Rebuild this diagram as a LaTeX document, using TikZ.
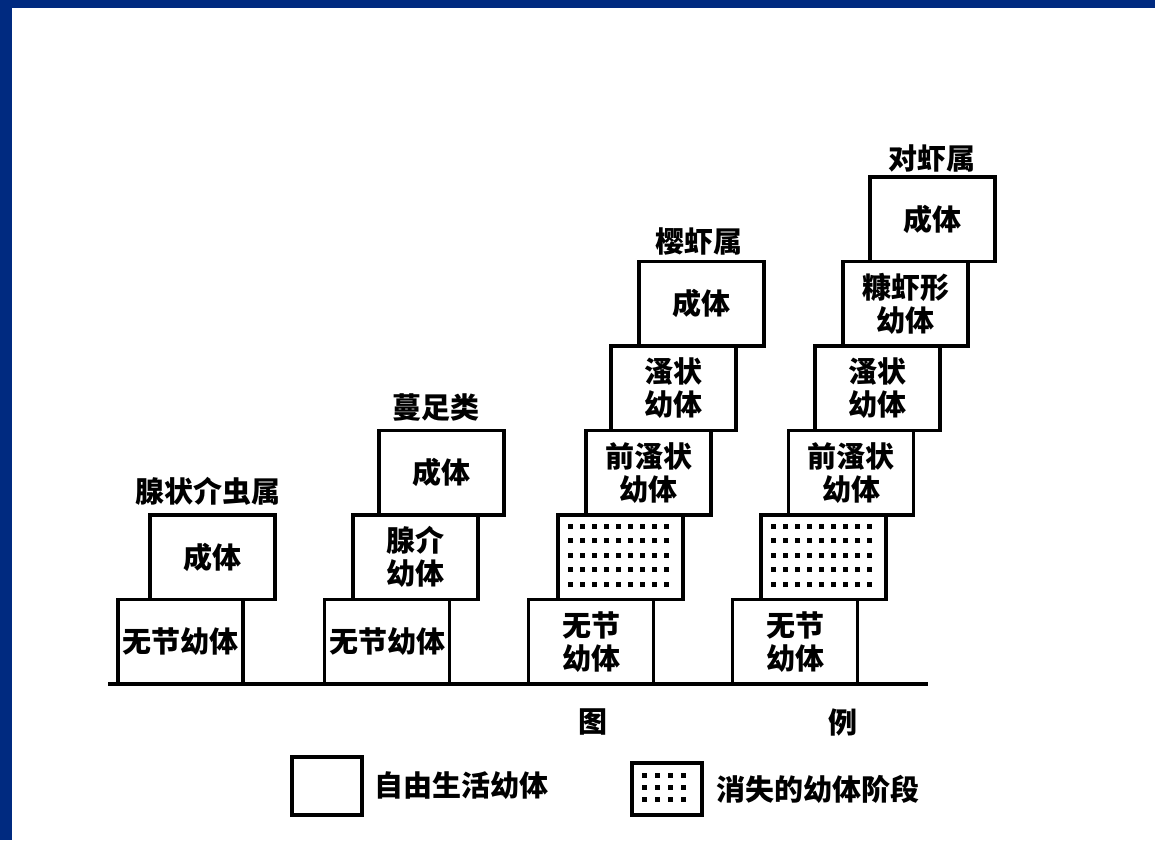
\documentclass[tikz,border=0pt]{standalone}
\usepackage{fontspec}
\newfontfamily\cjk{Noto Sans CJK SC}
\usepackage{tikz}
\usetikzlibrary{positioning,calc}
\definecolor{slideblue}{RGB}{0,42,128}

\tikzset{
  stage/.style={draw, line width=1.7pt, minimum width=62.5pt, minimum height=42.25pt,
                inner sep=0pt, align=center},
  keybox/.style={draw, line width=1.7pt, minimum width=35pt, inner sep=0pt},
  lbl/.style={inner sep=0pt},
  cjktext/.style={font=\cjk\bfseries\fontsize{14.5}{16.5}\selectfont},
}

\begin{document}
\begin{tikzpicture}[x=0.5pt, y=-0.5pt, cjktext]
  \useasboundingbox (0,0) rectangle (1155,840);
  % Rahmen der Folie
  \fill[slideblue] (0,0) rectangle (1155,8);
  \fill[slideblue] (0,0) rectangle (12,840);

  % Grundlinie
  \coordinate (base-l) at (108,684);
  \coordinate (base-r) at (928,684);
  \draw[line width=1.6pt] (base-l) -- (base-r);

  % Gruppe 1 und 2
  \foreach \n/\x/\y/\t in {g1a/180.5/641.75/{无节幼体}, g1b/212.5/557.25/{成体},
                           g2a/387/641.75/{无节幼体}, g2b/415.5/557.25/{腺介\\幼体},
                           g2c/441.5/472.75/{成体}}{
    \node[stage] (\n) at (\x,\y) {\t};
  }

  % Gruppe 3 und 4
  \foreach \n/\x/\y/\t in {g3a/591/641.75/{无节\\幼体}, g3b/620.5/557.25/{},
                           g3c/648.5/472.75/{前溞状\\幼体}, g3d/673.5/388.25/{溞状\\幼体},
                           g3e/701.5/303.75/{成体},
                           g4a/795/641.75/{无节\\幼体}, g4b/823.5/557.25/{},
                           g4c/851/472.75/{前溞状\\幼体}, g4d/877.5/388.25/{溞状\\幼体},
                           g4e/905.5/303.75/{糠虾形\\幼体}, g4f/932.5/219.25/{成体}}{
    \node[stage] (\n) at (\x,\y) {\t};
  }

  % Punkte: verschwundene Stadien
  \foreach \b in {g3b, g4b}{
    \foreach \i in {0,...,8}
      \foreach \j in {0,...,4}
        \fill ($(\b.north west)+(11.5+12*\i,10.5+14.5*\j)$) rectangle +(5,5);
  }

  % Gattungen
  \node[lbl] (lab1) at (208,491) {腺状介虫属};
  \node[lbl] (lab2) at (436,408) {蔓足类};
  \node[lbl] (lab3) at (699,241) {樱虾属};
  \node[lbl] (lab4) at (932,158) {对虾属};

  % Legende
  \node[lbl] (tu) at (593,722) {图};
  \node[lbl] (li) at (843,722) {例};
  \node[keybox, minimum height=29pt] (key1) at (327,786) {};
  \node[lbl, right=5pt of key1] (key1-txt) {自由生活幼体};
  \node[keybox, minimum height=26pt] (key2) at (667,789) {};
  \node[lbl, right=6pt of key2] (key2-txt) {消失的幼体阶段};
  \foreach \i in {0,...,3}
    \foreach \j in {0,...,2}
      \fill ($(key2.north west)+(11.5+13*\i,11.5+12*\j)$) rectangle +(5,5);

\end{tikzpicture}
\end{document}
